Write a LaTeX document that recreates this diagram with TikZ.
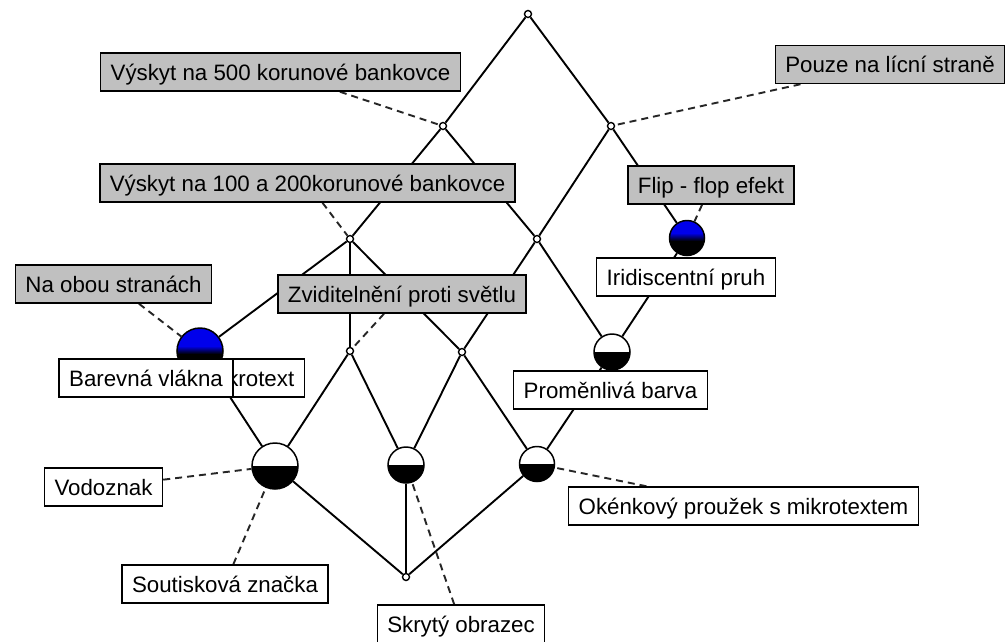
\documentclass[tikz,border=0pt]{standalone}
\usepackage{fontspec}
\setmainfont{Liberation Sans}
\usetikzlibrary{calc}
\definecolor{lgray}{RGB}{192,192,192}
\definecolor{nodeblue}{RGB}{0,0,235}
\pgfdeclarelayer{background}
\pgfsetlayers{background,main}
\begin{document}
\begin{tikzpicture}[x=1pt,y=-1pt,
  lbl/.style={draw=black, line width=1.5pt, inner xsep=10pt, inner ysep=0pt,
    minimum height=38pt, text height=16pt, text depth=0pt,
    font=\fontsize{22.3}{26}\selectfont},
  attr/.style={lbl, fill=lgray},
  obj/.style={lbl, fill=white},
  small/.style={circle, draw=black, fill=white, line width=1.4pt, inner sep=0pt, minimum size=7pt},
  halfw/.style={circle, draw=black, line width=1.5pt, inner sep=0pt, minimum size=#1,
    path picture={
      \fill[white] (path picture bounding box.north west) rectangle (path picture bounding box.east);
      \fill[black] (path picture bounding box.west) rectangle (path picture bounding box.south east);}},
  halfb/.style={circle, draw=black, line width=1.5pt, inner sep=0pt, minimum size=#1,
    path picture={
      \fill[nodeblue] (path picture bounding box.north west) rectangle (path picture bounding box.east);
      \fill[black] (path picture bounding box.west) rectangle (path picture bounding box.south east);
      \shade[top color=nodeblue, bottom color=black]
        ($(path picture bounding box.west)+(0,-5)$) rectangle ($(path picture bounding box.east)+(0,3)$);}},
  edge/.style={line width=1.9pt},
  link/.style={line width=1.9pt, dash pattern=on 7pt off 5pt, black!85}
]
\useasboundingbox (0,0) rectangle (1005,641);

% lattice nodes
\node[small] (top) at (528,14) {};
\node[small] (A) at (443,126) {};
\node[small] (B) at (611,126) {};
\node[small] (C) at (350,239) {};
\node[small] (D) at (537,239) {};
\node[halfb=35pt] (E) at (687,238) {};
\node[halfb=46pt] (F) at (200,351) {};
\node[small] (G) at (350,351) {};
\node[small] (H) at (462,352) {};
\node[halfw=36pt] (I) at (612,352) {};
\node[halfw=46pt] (J) at (275,466) {};
\node[halfw=36pt] (K) at (406,465) {};
\node[halfw=35pt] (L) at (537,464) {};
\node[small] (bot) at (406,577) {};

% labels
\node[attr] (l500) at (280.5,72) {Výskyt na 500 korunové bankovce};
\node[attr] (lPouze) at (890,64.5) {Pouze na lícní straně};
\node[attr] (l100) at (307.5,183) {Výskyt na 100 a 200korunové bankovce};
\node[attr] (lFlip) at (711,185) {Flip - flop efekt};
\node[attr] (lObou) at (113.5,284) {Na obou stranách};
\node[attr] (lZvid) at (402,294) {Zviditelnění proti světlu};
\node[obj, anchor=east] (lMikro) at (305,378) {Mikrotext};
\node[obj] (lBar) at (146,378) {Barevná vlákna};
\node[obj] (lIrid) at (686,277) {Iridiscentní pruh};
\node[obj] (lProm) at (610.5,390) {Proměnlivá barva};
\node[obj] (lVod) at (103.5,487) {Vodoznak};
\node[obj] (lSout) at (225,584) {Soutisková značka};
\node[obj] (lSkr) at (461,624) {Skrytý obrazec};
\node[obj] (lOken) at (743.5,506) {Okénkový proužek s mikrotextem};

\begin{pgfonlayer}{background}
\fill[white] (0,0) rectangle (1005,641);
\draw[edge] (top) -- (A);
\draw[edge] (top) -- (B);
\draw[edge] (A) -- (C);
\draw[edge] (A) -- (D);
\draw[edge] (B) -- (D);
\draw[edge] (B) -- (E);
\draw[edge] (C) -- (F);
\draw[edge] (C) -- (G);
\draw[edge] (C) -- (H);
\draw[edge] (D) -- (H);
\draw[edge] (D) -- (I);
\draw[edge] (E) -- (I);
\draw[edge] (F) -- (J);
\draw[edge] (G) -- (J);
\draw[edge] (G) -- (K);
\draw[edge] (H) -- (K);
\draw[edge] (H) -- (L);
\draw[edge] (I) -- (L);
\draw[edge] (J) -- (bot);
\draw[edge] (K) -- (bot);
\draw[edge] (L) -- (bot);
% label links
\draw[link] (l500) -- (A);
\draw[link] (lPouze) -- (B);
\draw[link] (l100) -- (C);
\draw[link] (lFlip) -- (E);
\draw[link] (lObou) -- (F);
\draw[link] (lZvid) -- (G);
\draw[link] (lVod) -- (J);
\draw[link] (lSout) -- (J);
\draw[link] (lSkr) -- (K);
\draw[link] (lOken) -- (L);
\end{pgfonlayer}
\end{tikzpicture}
\end{document}
